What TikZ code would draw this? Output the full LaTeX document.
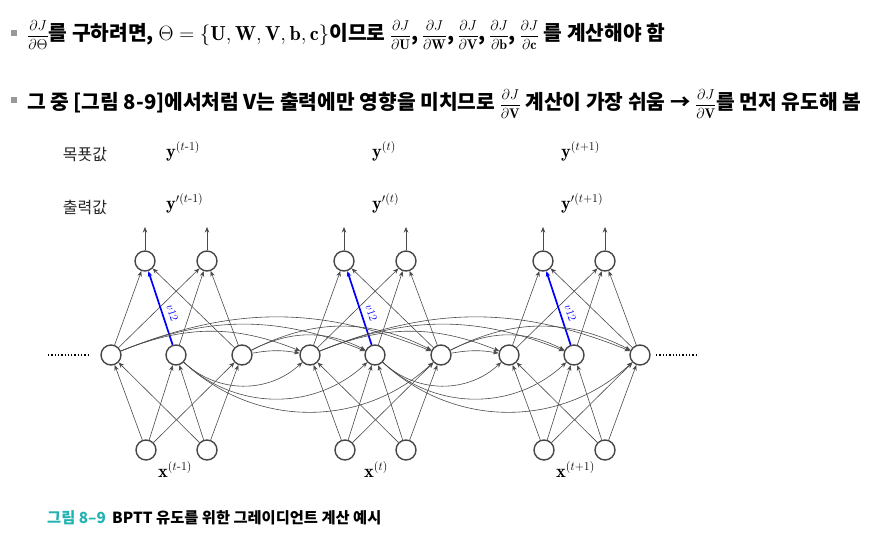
\documentclass[tikz,border=0pt]{standalone}
\usepackage{amsmath}
\usepackage{fontspec}
\usetikzlibrary{arrows.meta,calc}
\newfontfamily\krfont{Noto Sans CJK KR}
\definecolor{capteal}{HTML}{22B2B2}
\definecolor{wiregray}{HTML}{4A4A4A}
\newcommand{\dJ}[1]{{\fontsize{14}{14}\selectfont$\dfrac{\partial J}{\partial #1}$}}

\begin{document}
\begin{tikzpicture}[x=1pt, y=-1pt,
		>={Stealth[length=5.5pt,width=4.5pt]},
		unit/.style={circle, draw=black!72, line width=1.4pt, minimum size=20pt, inner sep=0pt},
		wire/.style={->, draw=wiregray, line width=0.6pt},
		weightv/.style={->, draw=blue, line width=1.7pt},
		bulletbox/.style={fill=black!40, minimum size=6pt, inner sep=0pt},
		bullettext/.style={anchor=base west, inner sep=0pt, font=\krfont\bfseries\fontsize{20.3}{22}\selectfont},
		sidelabel/.style={font=\krfont\fontsize{16}{18}\selectfont, text=black!85},
		veclabel/.style={anchor=base west, inner sep=0pt, font=\fontsize{18.5}{20}\selectfont},
		weightlabel/.style={text=blue, inner sep=0pt, font=\fontsize{11.5}{12}\selectfont},
		caption/.style={anchor=base west, inner sep=0pt, font=\krfont\bfseries\fontsize{15.3}{17}\selectfont}]

	\useasboundingbox (0,0) rectangle (873,539);

	% bullets
	\node[bulletbox] (b1) at (14,33) {};
	\node[bullettext] (t1) at (27,40) {\dJ{\Theta}를 구하려면, $\Theta=\{\mathbf{U},\mathbf{W},\mathbf{V},\mathbf{b},\mathbf{c}\}$이므로 \dJ{\mathbf{U}},\,\dJ{\mathbf{W}},\,\dJ{\mathbf{V}},\,\dJ{\mathbf{b}},\,\dJ{\mathbf{c}} 를 계산해야 함};
	\node[bulletbox] (b2) at (14,100) {};
	\node[bullettext] (t2) at (27,109) {그 중 [그림 8-9]에서처럼 V는 출력에만 영향을 미치므로 \dJ{\mathbf{V}} 계산이 가장 쉬움 → \dJ{\mathbf{V}}를 먼저 유도해 봄};

	% row labels
	\node[sidelabel] (tgt) at (85,155) {목푯값};
	\node[sidelabel] (prd) at (85,207) {출력값};
	\node[veclabel] (y1) at (166,157) {$\mathbf{y}^{(t\text{-}1)}$};
	\node[veclabel] (y2) at (372,157) {$\mathbf{y}^{(t)}$};
	\node[veclabel] (y3) at (561,157) {$\mathbf{y}^{(t+1)}$};
	\node[veclabel] (yp1) at (166,209) {$\mathbf{y}'^{(t\text{-}1)}$};
	\node[veclabel] (yp2) at (372,209) {$\mathbf{y}'^{(t)}$};
	\node[veclabel] (yp3) at (561,209) {$\mathbf{y}'^{(t+1)}$};
	\node[veclabel] (x1) at (158,477) {$\mathbf{x}^{(t\text{-}1)}$};
	\node[veclabel] (x2) at (364,477) {$\mathbf{x}^{(t)}$};
	\node[veclabel] (x3) at (556,477) {$\mathbf{x}^{(t+1)}$};

	% units of each time step
	\foreach \k/\dx in {1/145,2/344,3/543}{
		\begin{scope}[xshift=\dx]
			\node[unit] (out-\k-1) at (0,261) {};
			\node[unit] (out-\k-2) at (62,261) {};
			\node[unit] (hid-\k-1) at (-34,355) {};
			\node[unit] (hid-\k-2) at (31,355) {};
			\node[unit] (hid-\k-3) at (97,355) {};
			\node[unit] (in-\k-1) at (1,450) {};
			\node[unit] (in-\k-2) at (62,450) {};
			\coordinate (top-\k-1) at (0,227);
			\coordinate (top-\k-2) at (62,227);
		\end{scope}
	}

	\foreach \k in {1,2,3}{
		\foreach \a in {1,2}{
			\draw[wire] (out-\k-\a) -- (top-\k-\a);
			\foreach \b in {1,2,3}
				\draw[wire] (in-\k-\a) -- (hid-\k-\b);
		}
		\foreach \b/\a in {1/1,1/2,2/2,3/1,3/2}
			\draw[wire] (hid-\k-\b) -- (out-\k-\a);
		\draw[weightv] (hid-\k-2) -- (out-\k-1);
		\node[weightlabel, rotate=-72] (w-\k) at ($(hid-\k-2)!0.44!(out-\k-1)+(10,-1)$) {\textit{v}12};
	}

	% recurrent links
	\foreach \k/\n in {1/2,2/3}{
		\foreach \j in {1,2,3}{
			\draw[wire] (hid-\k-1) to[bend left=22] (hid-\n-\j);
			\draw[wire] (hid-\k-2) to[bend right=43] (hid-\n-\j);
		}
		\draw[wire] (hid-\k-3) to[bend left=10] (hid-\n-1);
		\draw[wire] (hid-\k-3) to[bend left=27] (hid-\n-2);
		\draw[wire] (hid-\k-3) to[bend left=27] (hid-\n-3);
	}

	% continuation dots
	\draw[dotted, line width=1.3pt] (48,355) -- (88,355);
	\draw[dotted, line width=1.3pt] (656,355) -- (697,355);

	% caption
	\node[caption, text=capteal] (cap1) at (47,523) {그림 8–9};
	\node[caption] (cap2) at (112,523) {BPTT 유도를 위한 그레이디언트 계산 예시};

\end{tikzpicture}
\end{document}
